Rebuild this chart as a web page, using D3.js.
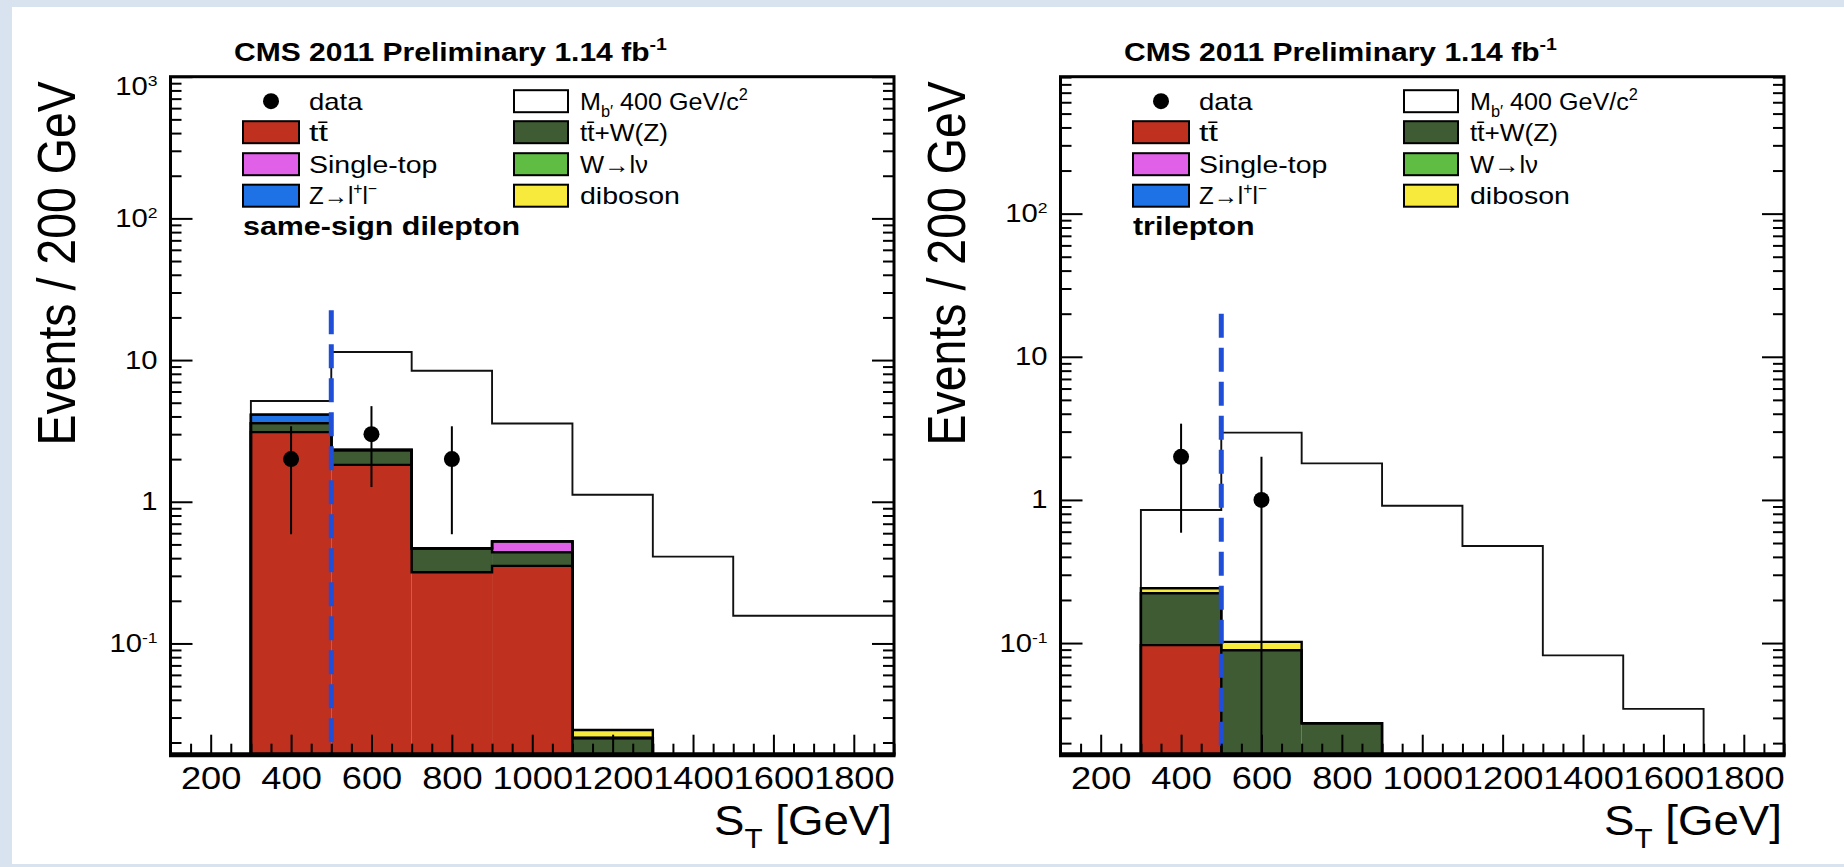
<!DOCTYPE html>
<html>
<head>
<meta charset="utf-8">
<script src="https://cdn.jsdelivr.net/npm/d3@7/dist/d3.min.js"></script>
<style>
html,body{margin:0;padding:0;background:#fff;}
svg{display:block;}
</style>
</head>
<body>
<svg id="chart" width="1844" height="867"></svg>
<script>
// ---------------- data ----------------
const binEdges = [300, 500, 700, 900, 1100, 1300, 1500, 1700, 1900];
const xDomain = [100, 1900];
const xTickValues = [200, 400, 600, 800, 1000, 1200, 1400, 1600, 1800];
const xTickLabels = ["200", "400", "600", "800", "1000", "1200", "1400", "1600", "1800"];
const yTickValues = [0.1, 1, 10, 100, 1000];
const yTickBase = ["10", "1", "10", "10", "10"];
const yTickExp = ["-1", "", "", "2", "3"];
const cutValue = 500;

// same-sign dilepton panel
const ssTTbar     = [3.10, 1.82, 0.318, 0.353, 0, 0, 0, 0];
const ssTTW       = [0.49, 0.50, 0.151, 0.087, 0.0215, 0, 0, 0];
const ssSingleTop = [0, 0, 0, 0.085, 0, 0, 0, 0];
const ssZll       = [0.53, 0, 0, 0, 0, 0, 0, 0];
const ssWlnu      = [0, 0, 0, 0, 0, 0, 0, 0];
const ssDiboson   = [0, 0, 0, 0, 0.003, 0, 0, 0];
const ssSignal    = [5.14, 11.4, 8.4, 3.57, 1.12, 0.41, 0.157, 0.157];
const ssDataX     = [400, 600, 800];
const ssDataY     = [2, 3, 2];
const ssDataErr   = [1.41, 1.73, 1.41];
const ssCutTop    = 22.5;
const ssYRange    = [0.0164, 1000];

// trilepton panel
const triTTbar     = [0.0967, 0, 0, 0, 0, 0, 0, 0];
const triTTW       = [0.126, 0.089, 0.0275, 0, 0, 0, 0, 0];
const triSingleTop = [0, 0, 0, 0, 0, 0, 0, 0];
const triZll       = [0, 0, 0, 0, 0, 0, 0, 0];
const triWlnu      = [0, 0, 0, 0, 0, 0, 0, 0];
const triDiboson   = [0.019, 0.013, 0, 0, 0, 0, 0, 0];
const triSignal    = [0.85, 2.95, 1.8, 0.91, 0.477, 0.082, 0.0347, 0];
const triDataX     = [400, 600];
const triDataY     = [2, 1];
const triDataErr   = [1.41, 1.0];
const triCutTop    = 20;
const triYRange    = [0.0166, 905];

// ---------------- style ----------------
const colTTbar = "#c0301f", colTTW = "#3e5b33", colSingleTop = "#e060e8",
      colZll = "#1f72e6", colWlnu = "#60bd44", colDiboson = "#f8ea3c";
const FONT = "'Liberation Sans', Arial, Helvetica, sans-serif";
const STRETCH = 1.17;

const svg = d3.select("#chart").attr("font-family", FONT);
svg.append("rect").attr("width", 1844).attr("height", 867).attr("fill", "#d9e3ef");
svg.append("rect").attr("x", 12).attr("y", 7).attr("width", 1832).attr("height", 857).attr("fill", "#ffffff");

function hScale(sel, kOrTarget, isTarget) {
  sel.each(function () {
    const w0 = this.getComputedTextLength();
    const k = isTarget ? kOrTarget / w0 : kOrTarget;
    const ax = +this.getAttribute("x") || 0;
    const prev = this.getAttribute("transform") || "";
    d3.select(this).attr("transform", `${prev} translate(${ax},0) scale(${k},1) translate(${-ax},0)`);
  });
}

function rich(textSel, parts, fs) {
  let cur = 0;
  parts.forEach(([s, mode]) => {
    const off = mode === "sup" ? -0.42 * fs : mode === "sub" ? 0.3 * fs : 0;
    const f = mode ? 0.65 * fs : fs;
    textSel.append("tspan").attr("dy", off - cur).attr("font-size", f).text(s);
    cur = off;
  });
}

const panels = [
  { left: 170.5, right: 894, top: 76.7, bottom: 754.7, yRange: ssYRange,
    comps: [[ssTTbar, colTTbar], [ssTTW, colTTW], [ssSingleTop, colSingleTop], [ssZll, colZll], [ssWlnu, colWlnu], [ssDiboson, colDiboson]],
    signal: ssSignal, dataX: ssDataX, dataY: ssDataY, dataErr: ssDataErr, cutTop: ssCutTop, label: "same-sign dilepton" },
  { left: 1060.5, right: 1784, top: 76.7, bottom: 754.7, yRange: triYRange,
    comps: [[triTTbar, colTTbar], [triTTW, colTTW], [triSingleTop, colSingleTop], [triZll, colZll], [triWlnu, colWlnu], [triDiboson, colDiboson]],
    signal: triSignal, dataX: triDataX, dataY: triDataY, dataErr: triDataErr, cutTop: triCutTop, label: "trilepton" }
];

const legendEntries = [
  { col: 0, row: 0, kind: "marker", parts: [["data", ""]], w: 53.5 },
  { col: 0, row: 1, kind: "box", fill: colTTbar, parts: [["tt\u0304", ""]], w: 19 },
  { col: 0, row: 2, kind: "box", fill: colSingleTop, parts: [["Single-top", ""]], w: 128.5 },
  { col: 0, row: 3, kind: "box", fill: colZll, parts: [["Z\u2192l", ""], ["+", "sup"], ["l", ""], ["\u2212", "sup"]], w: 68 },
  { col: 1, row: 0, kind: "box", fill: "#ffffff", parts: [["M", ""], ["b\u2032", "sub"], [" 400 GeV/c", ""], ["2", "sup"]], w: 168 },
  { col: 1, row: 1, kind: "box", fill: colTTW, parts: [["tt\u0304+W(Z)", ""]], w: 88 },
  { col: 1, row: 2, kind: "box", fill: colWlnu, parts: [["W\u2192l\u03bd", ""]], w: 68 },
  { col: 1, row: 3, kind: "box", fill: colDiboson, parts: [["diboson", ""]], w: 100 }
];

panels.forEach(p => {
  const g = svg.append("g");
  const x = d3.scaleLinear().domain(xDomain).range([p.left, p.right]);
  const y = d3.scaleLog().domain(p.yRange).range([p.bottom, p.top]).clamp(true);
  const ymin = p.yRange[0];
  const yv = v => y(Math.max(v, ymin));
  const nb = binEdges.length - 1;

  // signal histogram (outline)
  const sigPts = [[binEdges[0], ymin]];
  p.signal.forEach((v, i) => { sigPts.push([binEdges[i], v]); sigPts.push([binEdges[i + 1], v]); });
  sigPts.push([binEdges[nb], ymin]);
  g.append("path")
    .attr("d", d3.line().x(d => x(d[0])).y(d => yv(d[1]))(sigPts))
    .attr("fill", "none").attr("stroke", "#111").attr("stroke-width", 1.9);

  // stacked backgrounds
  let cum = new Array(nb).fill(0);
  const levels = [];
  p.comps.forEach(([vals, col]) => {
    const lower = cum.slice();
    cum = cum.map((c, i) => c + vals[i]);
    levels.push({ lower, upper: cum.slice(), col, any: vals.some(v => v > 0) });
  });
  levels.forEach(L => {
    L.upper.forEach((u, i) => {
      if (u > L.lower[i]) {
        g.append("rect")
          .attr("x", x(binEdges[i])).attr("width", x(binEdges[i + 1]) - x(binEdges[i]))
          .attr("y", yv(u)).attr("height", yv(L.lower[i]) - yv(u))
          .attr("fill", L.col);
      }
    });
  });
  levels.filter(L => L.any).forEach(L => {
    const pts = [[binEdges[0], 0]];
    L.upper.forEach((u, i) => { pts.push([binEdges[i], u]); pts.push([binEdges[i + 1], u]); });
    pts.push([binEdges[nb], 0]);
    g.append("path")
      .attr("d", d3.line().x(d => x(d[0])).y(d => yv(d[1]))(pts))
      .attr("fill", "none").attr("stroke", "#000").attr("stroke-width", 2.4);
  });

  // cut line
  g.append("line")
    .attr("x1", x(cutValue)).attr("x2", x(cutValue))
    .attr("y1", yv(p.cutTop)).attr("y2", p.bottom)
    .attr("stroke", "#1f4fd8").attr("stroke-width", 5).attr("stroke-dasharray", "24 10");

  // data
  p.dataX.forEach((dx, i) => {
    g.append("line")
      .attr("x1", x(dx)).attr("x2", x(dx))
      .attr("y1", yv(p.dataY[i] + p.dataErr[i])).attr("y2", yv(p.dataY[i] - p.dataErr[i]))
      .attr("stroke", "#000").attr("stroke-width", 2);
    g.append("circle").attr("cx", x(dx)).attr("cy", yv(p.dataY[i])).attr("r", 8).attr("fill", "#000");
  });

  // axes
  const xMinor = d3.range(100, 1901, 50).filter(v => v % 200 !== 0);
  const xa = g.append("g").attr("transform", `translate(0,${p.bottom})`)
    .call(d3.axisBottom(x).tickValues(xTickValues).tickSizeInner(-20).tickSizeOuter(0).tickPadding(12)
      .tickFormat((d, i) => xTickLabels[i]));
  g.append("g").attr("transform", `translate(0,${p.bottom})`)
    .call(d3.axisBottom(x).tickValues(xMinor).tickSizeInner(-11).tickSizeOuter(0).tickFormat(""));

  const yMajor = yTickValues.filter(v => v >= ymin && v <= p.yRange[1] * 1.0001);
  const yMinor = [];
  for (let e = -2; e <= 3; e++) for (let m = 2; m <= 9; m++) {
    const v = m * Math.pow(10, e);
    if (v >= ymin && v <= p.yRange[1]) yMinor.push(v);
  }
  const ya = g.append("g").attr("transform", `translate(${p.left},0)`)
    .call(d3.axisLeft(y).tickValues(yMajor).tickSizeInner(-22).tickSizeOuter(0).tickPadding(13).tickFormat(() => ""));
  g.append("g").attr("transform", `translate(${p.left},0)`)
    .call(d3.axisLeft(y).tickValues(yMinor).tickSizeInner(-11).tickSizeOuter(0).tickFormat(""));
  g.append("g").attr("transform", `translate(${p.right},0)`)
    .call(d3.axisRight(y).tickValues(yMajor).tickSizeInner(-22).tickSizeOuter(0).tickFormat(""));
  g.append("g").attr("transform", `translate(${p.right},0)`)
    .call(d3.axisRight(y).tickValues(yMinor).tickSizeInner(-11).tickSizeOuter(0).tickFormat(""));

  g.selectAll(".domain").remove();
  g.selectAll(".tick line").attr("stroke", "#000").attr("stroke-width", 2);

  xa.selectAll(".tick text").attr("font-size", 31).attr("font-family", FONT).attr("fill", "#000");
  hScale(xa.selectAll(".tick text"), STRETCH, false);

  ya.selectAll(".tick text").each(function (d) {
    const t = d3.select(this).attr("font-size", 25).attr("font-family", FONT).attr("fill", "#000");
    const idx = yTickValues.indexOf(d);
    t.text(null);
    t.append("tspan").text(yTickBase[idx]);
    if (yTickExp[idx]) t.append("tspan").attr("font-size", 15).attr("dy", -9).text(yTickExp[idx]);
    if (Math.abs(d - p.yRange[1]) / d < 0.01) t.attr("y", 10);
  });
  hScale(ya.selectAll(".tick text"), STRETCH, false);

  // frame
  g.append("rect").attr("x", p.left).attr("y", p.top)
    .attr("width", p.right - p.left).attr("height", p.bottom - p.top)
    .attr("fill", "none").attr("stroke", "#000").attr("stroke-width", 3);
  g.append("line").attr("x1", p.left - 1.5).attr("x2", p.right + 1.5)
    .attr("y1", p.bottom).attr("y2", p.bottom).attr("stroke", "#000").attr("stroke-width", 5);

  // axis titles
  g.append("text")
    .attr("transform", `translate(${p.left - 95.5},${(p.top + 444) / 2 + 3}) rotate(-90) scale(1,${STRETCH})`)
    .attr("text-anchor", "middle").attr("font-size", 46.5).attr("fill", "#000")
    .text("Events / 200 GeV");

  const xt = g.append("text").attr("x", p.right - 2).attr("y", 835)
    .attr("text-anchor", "end").attr("font-size", 42).attr("fill", "#000");
  rich(xt, [["S", ""], ["T", "sub"], [" [GeV]", ""]], 42);
  hScale(xt, 178, true);

  // title
  const tt = g.append("text").attr("x", p.left + 63.5).attr("y", 61)
    .attr("font-size", 26).attr("font-weight", "bold").attr("fill", "#000");
  rich(tt, [["CMS 2011 Preliminary 1.14 fb", ""], ["-1", "sup"]], 26);
  hScale(tt, 433, true);

  // legend
  const colBoxX = [p.left + 72.5, p.left + 343.5];
  const colBoxW = [56, 54];
  const colTextX = [p.left + 138.5, p.left + 409.5];
  const rowY = [p.top + 24.5, p.top + 55.5, p.top + 87.5, p.top + 119];
  legendEntries.forEach(e => {
    const cy = rowY[e.row];
    if (e.kind === "marker") {
      g.append("circle").attr("cx", colBoxX[e.col] + colBoxW[e.col] / 2).attr("cy", cy).attr("r", 8).attr("fill", "#000");
    } else {
      g.append("rect").attr("x", colBoxX[e.col]).attr("y", cy - 11)
        .attr("width", colBoxW[e.col]).attr("height", 22)
        .attr("fill", e.fill).attr("stroke", "#000").attr("stroke-width", 2);
    }
    const t = g.append("text").attr("x", colTextX[e.col]).attr("y", cy + 8.5)
      .attr("font-size", 24).attr("fill", "#000");
    rich(t, e.parts, 24);
    hScale(t, e.w, true);
  });
  const cl = g.append("text").attr("x", p.left + 72.5).attr("y", 235)
    .attr("font-size", 26).attr("font-weight", "bold").attr("fill", "#000").text(p.label);
  hScale(cl, STRETCH, false);
});
</script>
</body>
</html>
